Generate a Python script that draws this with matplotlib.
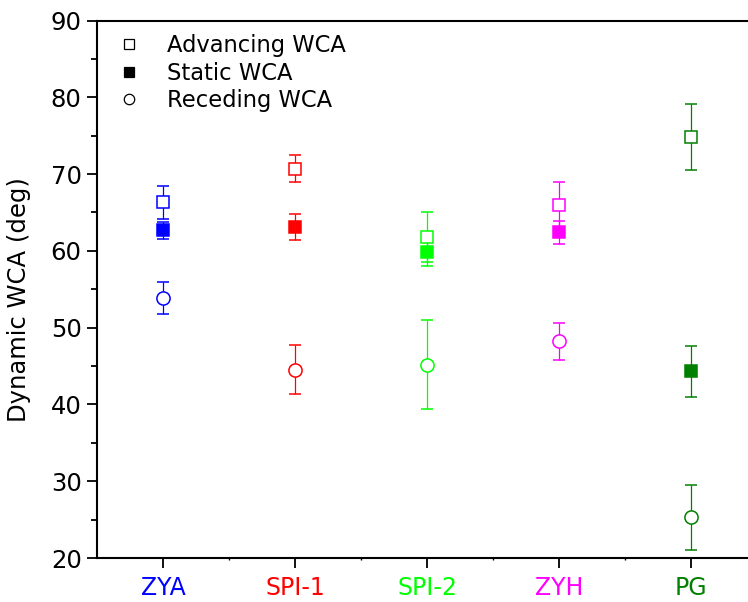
import matplotlib
matplotlib.use("Agg")
import matplotlib.pyplot as plt
from matplotlib.lines import Line2D
from matplotlib.ticker import MultipleLocator, FixedLocator

plt.rcParams['font.family'] = ['DejaVu Sans']

samples = ["ZYA", "SPI-1", "SPI-2", "ZYH", "PG"]
colors = ["#0000FF", "#FF0000", "#00FF00", "#FF00FF", "#008000"]

advancing = [66.3, 70.7, 61.8, 66.0, 74.8]
advancing_err = [2.2, 1.75, 3.3, 2.95, 4.33]
static = [62.7, 63.1, 59.9, 62.4, 44.3]
static_err = [1.1, 1.7, 1.9, 1.45, 3.37]
receding = [53.9, 44.5, 45.2, 48.2, 25.3]
receding_err = [2.1, 3.2, 5.8, 2.35, 4.2]

fig = plt.figure(figsize=(7.48, 6.02), dpi=100)
ax = fig.add_axes([97 / 748, 1 - 558 / 602, 660 / 748, (558 - 20.5) / 602])

x = list(range(1, len(samples) + 1))
series = [
    (advancing, advancing_err, 's', False, 8),
    (static, static_err, 's', True, 8),
    (receding, receding_err, 'o', False, 9.5),
]
for vals, errs, mk, filled, ms in series:
    for xi, v, e, c in zip(x, vals, errs, colors):
        ax.errorbar(xi, v, yerr=e, fmt=mk, ms=ms,
                    mfc=c if filled else 'white', mec=c, mew=1.1,
                    ecolor=c, elinewidth=0.9, capsize=4, capthick=0.9,
                    zorder=3)

ax.set_xlim(0.5, 5.5)
ax.set_ylim(20, 90)
ax.set_xticks(x)
ax.set_xticklabels(samples)
for lbl, c in zip(ax.get_xticklabels(), colors):
    lbl.set_color(c)
ax.xaxis.set_minor_locator(FixedLocator([1.5, 2.5, 3.5, 4.5]))
ax.yaxis.set_major_locator(MultipleLocator(10))
ax.yaxis.set_minor_locator(MultipleLocator(5))
ax.tick_params(axis='both', which='major', direction='out', length=7, width=1.3)
ax.tick_params(axis='y', which='major', pad=4, labelsize=17.5)
ax.tick_params(axis='x', which='major', pad=6, labelsize=17)
ax.tick_params(axis='y', which='minor', direction='out', length=4.5, width=1.3)
ax.tick_params(axis='x', which='minor', direction='out', length=1.5, width=1.0)
ax.tick_params(top=False, right=False)
for sp in ax.spines.values():
    sp.set_linewidth(1.5)

ax.set_ylabel("Dynamic WCA (deg)", fontsize=17.5)
ax.yaxis.set_label_coords(-(97 - 31) / 660, 0.48)

handles = [
    Line2D([], [], ls='none', marker='s', ms=6.5, mfc='white', mec='black', mew=0.9),
    Line2D([], [], ls='none', marker='s', ms=6.5, mfc='black', mec='black', mew=0.9),
    Line2D([], [], ls='none', marker='o', ms=7.5, mfc='white', mec='black', mew=0.9),
]
ax.legend(handles, ["Advancing WCA", "Static WCA", "Receding WCA"],
          loc='upper left', frameon=False, fontsize=16.3, handlelength=1.0,
          handletextpad=1.2, labelspacing=0.2,
          bbox_to_anchor=(0.01, 1.0), borderaxespad=0.2)

fig.savefig("out.png", dpi=100)
